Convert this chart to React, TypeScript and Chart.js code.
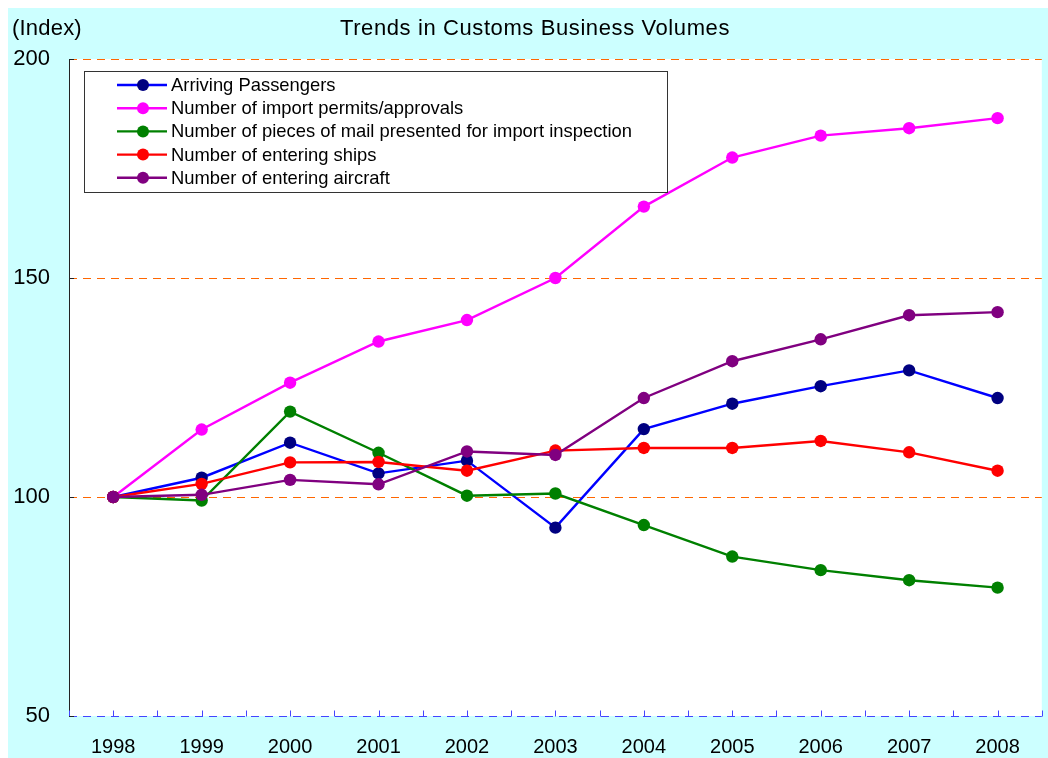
import { useEffect, useRef } from "react";
import { Chart, registerables } from "chart.js";

Chart.register(...registerables);

const years = ["1998", "1999", "2000", "2001", "2002", "2003", "2004", "2005", "2006", "2007", "2008"];
const arrivingPassengers = [100, 104.4, 112.4, 105.4, 108.3, 93.0, 115.5, 121.3, 125.3, 128.9, 122.6];
const importPermits = [100, 115.4, 126.1, 135.5, 140.4, 150.0, 166.3, 177.5, 182.5, 184.2, 186.5];
const mailPieces = [100, 99.2, 119.5, 110.1, 100.3, 100.8, 93.6, 86.4, 83.3, 81.0, 79.3];
const enteringShips = [100, 103.0, 107.9, 108.0, 106.0, 110.6, 111.2, 111.2, 112.8, 110.2, 106.0];
const enteringAircraft = [100, 100.5, 103.9, 102.9, 110.4, 109.6, 122.6, 131.0, 136.0, 141.5, 142.2];
const yTicks = [50, 100, 150, 200];
const gridValues = [100, 150, 200];
const chartTitle = "Trends in Customs Business Volumes";
const yUnit = "(Index)";

const seriesNames = [
  "Arriving Passengers",
  "Number of import permits/approvals",
  "Number of pieces of mail presented for import inspection",
  "Number of entering ships",
  "Number of entering aircraft",
];
const seriesValues = [arrivingPassengers, importPermits, mailPieces, enteringShips, enteringAircraft];
const lineColors = ["#0000FF", "#FF00FF", "#008000", "#FF0000", "#800080"];
const markerColors = ["#000080", "#FF00FF", "#008000", "#FF0000", "#800080"];

const FONT = "'Liberation Sans', Arial, sans-serif";

const decorPlugin = {
  id: "decor",
  beforeDraw(chart: any) {
    const { ctx, chartArea } = chart;
    ctx.save();
    ctx.fillStyle = "#CCFFFF";
    ctx.fillRect(0, 0, chart.width, chart.height);
    ctx.fillStyle = "#FFFFFF";
    ctx.fillRect(chartArea.left, chartArea.top, chartArea.right - chartArea.left, chartArea.bottom - chartArea.top);
    ctx.restore();
  },
  beforeDatasetsDraw(chart: any) {
    const { ctx, chartArea } = chart;
    const yScale = chart.scales.y;
    ctx.save();
    ctx.lineWidth = 1;
    // orange dashed value grid lines
    ctx.strokeStyle = "#FF6600";
    ctx.setLineDash([8, 6]);
    gridValues.forEach((v) => {
      const y = Math.round(yScale.getPixelForValue(v)) + 0.5;
      ctx.beginPath();
      ctx.moveTo(chartArea.left, y);
      ctx.lineTo(chartArea.right, y);
      ctx.stroke();
    });
    // dashed blue category axis line
    ctx.strokeStyle = "#4444FF";
    const yb = Math.round(chartArea.bottom) + 0.5;
    ctx.beginPath();
    ctx.moveTo(chartArea.left, yb);
    ctx.lineTo(chartArea.right, yb);
    ctx.stroke();
    ctx.setLineDash([]);
    // inward x ticks at every half category
    const n = years.length * 2;
    const w = chartArea.right - chartArea.left;
    for (let k = 0; k <= n; k++) {
      const x = Math.round(chartArea.left + (k * w) / n) + 0.5;
      ctx.beginPath();
      ctx.moveTo(x, yb);
      ctx.lineTo(x, yb - 6);
      ctx.stroke();
    }
    // inward y ticks
    ctx.strokeStyle = "#222";
    yTicks.forEach((v) => {
      const y = Math.round(yScale.getPixelForValue(v)) + 0.5;
      ctx.beginPath();
      ctx.moveTo(chartArea.left, y);
      ctx.lineTo(chartArea.left + 5, y);
      ctx.stroke();
    });
    ctx.restore();
  },
  afterDraw(chart: any) {
    const { ctx, chartArea } = chart;
    ctx.save();
    // title and unit
    ctx.fillStyle = "#000";
    ctx.textBaseline = "middle";
    ctx.font = `22px ${FONT}`;
    (ctx as any).letterSpacing = "0.2px";
    ctx.textAlign = "left";
    ctx.fillText(yUnit, 4, 21);
    (ctx as any).letterSpacing = "0.6px";
    ctx.textAlign = "center";
    ctx.fillText(chartTitle, 527, 21);
    (ctx as any).letterSpacing = "0px";

    // legend
    const bx = chartArea.left + 15;
    const by = chartArea.top + 12;
    const bw = 583;
    const bh = 121;
    ctx.fillStyle = "#FFFFFF";
    ctx.fillRect(bx, by, bw, bh);
    ctx.strokeStyle = "#333";
    ctx.lineWidth = 1;
    ctx.strokeRect(bx + 0.5, by + 0.5, bw, bh);
    ctx.font = `18.4px ${FONT}`;
    ctx.textAlign = "left";
    ctx.textBaseline = "middle";
    seriesNames.forEach((name, i) => {
      const y = by + 14 + i * 23.2;
      ctx.strokeStyle = lineColors[i];
      ctx.lineWidth = 2.4;
      ctx.beginPath();
      ctx.moveTo(bx + 33, y);
      ctx.lineTo(bx + 83, y);
      ctx.stroke();
      ctx.fillStyle = markerColors[i];
      ctx.beginPath();
      ctx.arc(bx + 59, y, 6, 0, Math.PI * 2);
      ctx.fill();
      ctx.fillStyle = "#000";
      ctx.fillText(name, bx + 87, y + 1);
    });
    ctx.restore();
  },
};

export default function App() {
  const ref = useRef<HTMLCanvasElement | null>(null);
  useEffect(() => {
    if (!ref.current) return;
    const datasets = seriesNames.map((name, i) => ({
      label: name,
      data: seriesValues[i],
      borderColor: lineColors[i],
      backgroundColor: markerColors[i],
      pointBackgroundColor: markerColors[i],
      pointBorderColor: markerColors[i],
      pointBorderWidth: 0,
      pointRadius: 6.2,
      borderWidth: 2.4,
      tension: 0,
      order: seriesNames.length - 1 - i,
    }));
    const chart = new Chart(ref.current, {
      type: "line",
      data: { labels: years, datasets },
      options: {
        animation: false,
        responsive: false,
        maintainAspectRatio: false,
        layout: { padding: { top: 51, left: 0, right: 2, bottom: 0 } },
        plugins: {
          legend: { display: false },
          title: { display: false },
          tooltip: { enabled: false },
        },
        scales: {
          x: {
            type: "category",
            offset: true,
            grid: { display: false, drawTicks: false },
            border: { display: false },
            ticks: { color: "#000", font: { family: FONT, size: 20 }, padding: 19, maxRotation: 0 },
            afterFit: (s: any) => {
              s.height = 42;
            },
          },
          y: {
            min: 50,
            max: 200,
            afterBuildTicks: (s: any) => {
              s.ticks = yTicks.map((v) => ({ value: v }));
            },
            grid: { display: false, drawTicks: false },
            border: { display: true, color: "#222", width: 1 },
            ticks: { color: "#000", font: { family: FONT, size: 22 }, padding: 19 },
            afterFit: (s: any) => {
              s.width = 61;
            },
          } as any,
        },
      },
      plugins: [decorPlugin],
    });
    return () => chart.destroy();
  }, []);
  return (
    <div style={{ position: "absolute", left: 8, top: 8, width: 1040, height: 750 }}>
      <canvas ref={ref} width={1040} height={750} style={{ display: "block" }} />
    </div>
  );
}
